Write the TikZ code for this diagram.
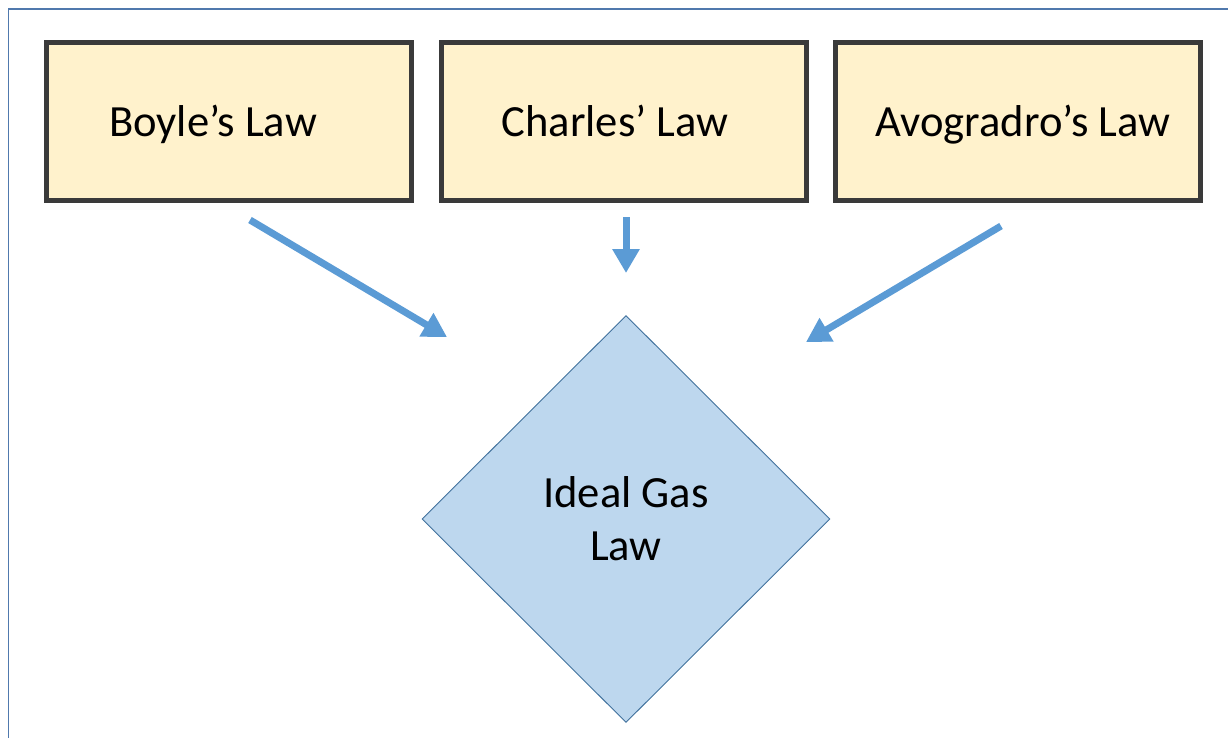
\documentclass[tikz,border=0pt]{standalone}
\usepackage{fontspec}
\setmainfont{Carlito}
\usetikzlibrary{arrows.meta,shapes.geometric}
\definecolor{boxfill}{HTML}{FFF2CC}
\definecolor{boxedge}{HTML}{3A3A3A}
\definecolor{dfill}{HTML}{BDD7EE}
\definecolor{dedge}{HTML}{41719C}
\definecolor{arr}{HTML}{5B9BD5}
\definecolor{frame}{HTML}{5079AD}
\tikzset{
  lawbox/.style={draw=boxedge, fill=boxfill, line width=5pt, minimum width=365pt, minimum height=158pt, inner sep=0pt},
  lawtext/.style={font=\fontsize{44.6}{52}\selectfont, inner sep=0pt, anchor=base},
  flow/.style={draw=arr, line width=7pt, -{Triangle[length=24pt,width=26pt]}},
}
\begin{document}
\begin{tikzpicture}[x=1pt,y=-1pt]
\useasboundingbox (0,0) rectangle (1228,737);
\clip (0,0) rectangle (1228,737);
\draw[frame, line width=1.6pt] (8.5,9) rectangle (1260,760);

\node[lawbox] (boyle) at (229,121.5) {};
\node[lawbox] (charles) at (624,121.5) {};
\node[lawbox] (avo) at (1018,121.5) {};
\node[lawtext] (boyletxt) at (213,136) {Boyle’s Law};
\node[lawtext] (charlestxt) at (615,136) {Charles’ Law};
\node[lawtext] (avotxt) at (1023,136) {Avogradro’s Law};

\node[diamond, draw=dedge, fill=dfill, line width=0.9pt, minimum width=408pt, minimum height=407pt, inner sep=0pt,
  font=\fontsize{44.6}{53}\selectfont, align=center] (ideal) at (626,519) {Ideal Gas\\Law};

\coordinate (s1) at (250,220);
\coordinate (e1) at (447,337);
\coordinate (s2) at (626,217);
\coordinate (e2) at (626,273);
\coordinate (s3) at (1001,226);
\coordinate (e3) at (806,342);
\draw[flow] (s1) -- (e1);
\draw[flow] (s2) -- (e2);
\draw[flow] (s3) -- (e3);
\end{tikzpicture}
\end{document}
